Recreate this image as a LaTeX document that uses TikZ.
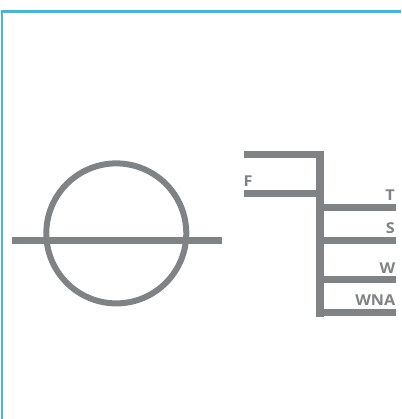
\documentclass[tikz,border=0pt]{standalone}
\usepackage{fontspec}
\setmainfont{Open Sans}[FakeStretch=1.08]
\definecolor{bar}{HTML}{808385}
\definecolor{frame}{HTML}{4FB3CF}
\tikzset{
  x=1pt,y=-1pt,
  barline/.style={fill=bar,draw=none},
  lab/.style={text=bar,font=\fontsize{15}{16}\selectfont\bfseries,inner sep=0pt},
}
\begin{document}
\begin{tikzpicture}
\useasboundingbox (0,0) rectangle (401,419);
\fill[white] (0,0) rectangle (401,419);
\fill[frame] (1,10) rectangle (401,12.6);
\fill[frame] (0.8,10) rectangle (3.4,419);
\draw[bar,line width=6pt] (116.3,233.4) circle[radius=70];
\fill[barline] (12,237) rectangle (222,244);
\fill[barline] (244,151) rectangle (324,157.7);
\fill[barline] (316,151) rectangle (324,316.7);
\fill[barline] (244,190) rectangle (316,197);
\fill[barline] (324,204) rectangle (396,211);
\fill[barline] (324,237) rectangle (396,244);
\fill[barline] (324,276) rectangle (396,283);
\fill[barline] (324,309) rectangle (396,316);
\node[lab,anchor=base west] (f) at (243.5,187) {F};
\node[lab,anchor=base east] (t) at (395,200.3) {T};
\node[lab,anchor=base east] (s) at (395,233) {S};
\node[lab,anchor=base east] (w) at (395.5,273) {W};
\node[lab,anchor=base east] (wna) at (395.5,305.7) {WNA};
\end{tikzpicture}
\end{document}
